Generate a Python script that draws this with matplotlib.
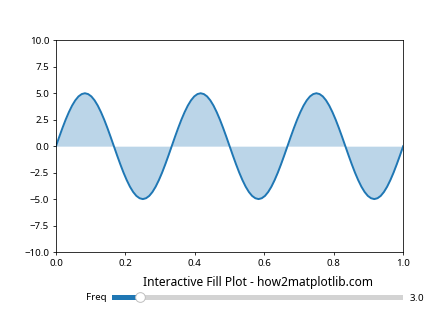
import numpy as np
import matplotlib
matplotlib.use("Agg")
import matplotlib.pyplot as plt
from matplotlib.widgets import Slider

plt.rcParams["font.family"] = ["Noto Sans", "DejaVu Sans"]

# x positions (step 1/108) and curve values
x = np.arange(109) / 108
y = [0.0, 0.87, 1.71, 2.5, 3.21, 3.83, 4.33, 4.7, 4.92, 5.0, 4.92, 4.7, 4.33, 3.83, 3.21, 2.5, 1.71, 0.87,
     0.0, -0.87, -1.71, -2.5, -3.21, -3.83, -4.33, -4.7, -4.92, -5.0, -4.92, -4.7, -4.33, -3.83, -3.21, -2.5, -1.71, -0.87,
     0.0, 0.87, 1.71, 2.5, 3.21, 3.83, 4.33, 4.7, 4.92, 5.0, 4.92, 4.7, 4.33, 3.83, 3.21, 2.5, 1.71, 0.87,
     0.0, -0.87, -1.71, -2.5, -3.21, -3.83, -4.33, -4.7, -4.92, -5.0, -4.92, -4.7, -4.33, -3.83, -3.21, -2.5, -1.71, -0.87,
     0.0, 0.87, 1.71, 2.5, 3.21, 3.83, 4.33, 4.7, 4.92, 5.0, 4.92, 4.7, 4.33, 3.83, 3.21, 2.5, 1.71, 0.87,
     0.0, -0.87, -1.71, -2.5, -3.21, -3.83, -4.33, -4.7, -4.92, -5.0, -4.92, -4.7, -4.33, -3.83, -3.21, -2.5, -1.71, -0.87,
     0.0]
y = np.array(y)

freq_init = 3.0
freq_min = 0.1
freq_max = 30.0

fig, ax = plt.subplots(figsize=(6.4, 4.8), dpi=70)
plt.subplots_adjust(bottom=0.25)

ax.plot(x, y, color='C0', linewidth=2)
ax.fill_between(x, y, color='C0', alpha=0.3, linewidth=0)
ax.set_xlim(0, 1)
ax.set_ylim(-10, 10)
ax.set_yticks(np.arange(-10, 10.1, 2.5))

ax_freq = plt.axes([0.25, 0.1, 0.65, 0.03])
slider = Slider(ax_freq, 'Freq', freq_min, freq_max, valinit=freq_init)
plt.title('Interactive Fill Plot - how2matplotlib.com', fontsize=12.3)

plt.savefig('out.png', dpi=70)
